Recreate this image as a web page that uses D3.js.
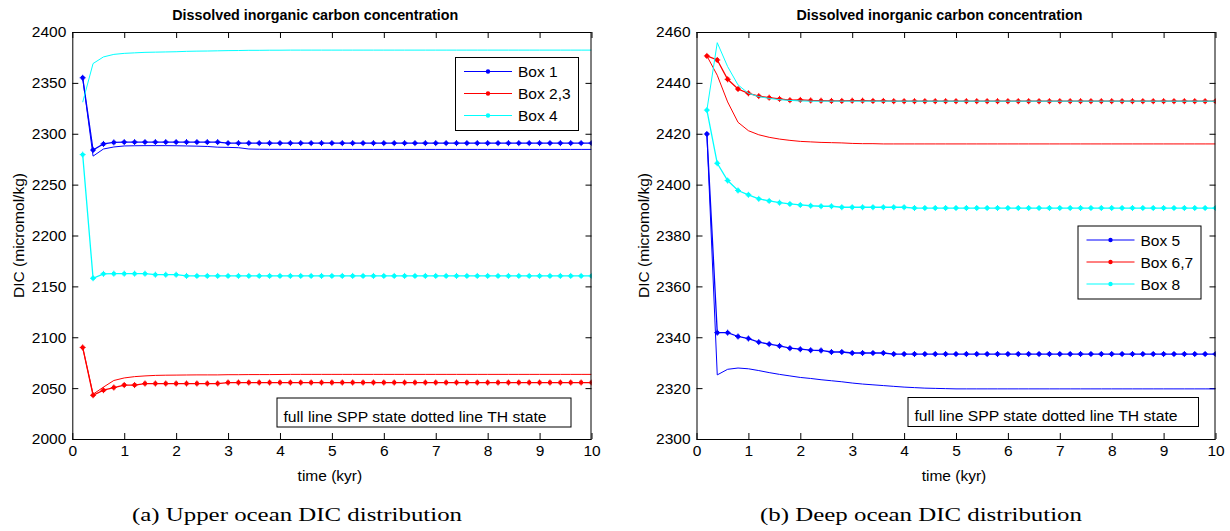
<!DOCTYPE html>
<html>
<head>
<meta charset="utf-8">
<script src="https://cdn.jsdelivr.net/npm/d3@7/dist/d3.min.js"></script>
<style>
    body { margin: 0; background: #fff; }
    svg text { font-family: "Liberation Sans", Arial, sans-serif; fill: #000; }
    .caption { font-family: "Liberation Serif", "Times New Roman", serif !important; }
</style>
</head>
<body>
<div id="fig"></div>
<script>

// TIME (kyr), one sample every 0.2 kyr
const time = [
    0.2, 0.4, 0.6, 0.8, 1.0, 1.2, 1.4, 1.6, 1.8, 2.0,
    2.2, 2.4, 2.6, 2.8, 3.0, 3.2, 3.4, 3.6, 3.8, 4.0,
    4.2, 4.4, 4.6, 4.8, 5.0, 5.2, 5.4, 5.6, 5.8, 6.0,
    6.2, 6.4, 6.6, 6.8, 7.0, 7.2, 7.4, 7.6, 7.8, 8.0,
    8.2, 8.4, 8.6, 8.8, 9.0, 9.2, 9.4, 9.6, 9.8, 10.0
];

// UPPER OCEAN - dotted (TH state)
const box1TH = [
    2355, 2284, 2290, 2291.5, 2291.8, 2291.8, 2291.8, 2291.8, 2291.8, 2291.8,
    2291.8, 2291.8, 2291.8, 2291.8, 2290.8, 2290.8, 2290.8, 2290.8, 2290.8, 2290.8,
    2290.8, 2290.8, 2290.8, 2290.8, 2290.8, 2290.8, 2290.8, 2290.8, 2290.8, 2290.8,
    2290.8, 2290.8, 2290.8, 2290.8, 2290.8, 2290.8, 2290.8, 2290.8, 2290.8, 2290.8,
    2290.8, 2290.8, 2290.8, 2290.8, 2290.8, 2290.8, 2290.8, 2290.8, 2290.8, 2290.8
];
const box23TH = [
    2090, 2043, 2048, 2050.6, 2053, 2053, 2054.5, 2054.5, 2054.5, 2054.5,
    2054.5, 2054.5, 2054.5, 2054.5, 2055.5, 2055.5, 2055.5, 2055.5, 2055.5, 2055.5,
    2055.5, 2055.5, 2055.5, 2055.5, 2055.5, 2055.5, 2055.5, 2055.5, 2055.5, 2055.5,
    2055.5, 2055.5, 2055.5, 2055.5, 2055.5, 2055.5, 2055.5, 2055.5, 2055.5, 2055.5,
    2055.5, 2055.5, 2055.5, 2055.5, 2055.5, 2055.5, 2055.5, 2055.5, 2055.5, 2055.5
];
const box4TH = [
    2279.5, 2158, 2162.3, 2162.5, 2162.5, 2162.5, 2162.5, 2161.5, 2161.5, 2161.5,
    2160.3, 2160.3, 2160.3, 2160.3, 2160.3, 2160.3, 2160.3, 2160.3, 2160.3, 2160.3,
    2160.3, 2160.3, 2160.3, 2160.3, 2160.3, 2160.3, 2160.3, 2160.3, 2160.3, 2160.3,
    2160.3, 2160.3, 2160.3, 2160.3, 2160.3, 2160.3, 2160.3, 2160.3, 2160.3, 2160.3,
    2160.3, 2160.3, 2160.3, 2160.3, 2160.3, 2160.3, 2160.3, 2160.3, 2160.3, 2160.3
];

// UPPER OCEAN - full (SPP state)
const box1SPP = [
    2355, 2278, 2285, 2287, 2288, 2288.2, 2288.3, 2288.3, 2288.3, 2288.2,
    2288, 2287.8, 2287.5, 2286.8, 2286.6, 2286.3, 2285, 2284.8, 2284.7, 2284.7,
    2284.6, 2284.6, 2284.6, 2284.6, 2284.6, 2284.6, 2284.6, 2284.6, 2284.6, 2284.6,
    2284.6, 2284.6, 2284.6, 2284.6, 2284.6, 2284.6, 2284.6, 2284.6, 2284.6, 2284.6,
    2284.6, 2284.6, 2284.6, 2284.6, 2284.6, 2284.6, 2284.6, 2284.6, 2284.6, 2284.6
];
const box23SPP = [
    2090, 2044, 2051, 2057.5, 2060, 2061.3, 2062, 2062.5, 2062.7, 2062.8,
    2062.9, 2063, 2063, 2063, 2063.2, 2063.2, 2063.3, 2063.3, 2063.3, 2063.4,
    2063.5, 2063.5, 2063.5, 2063.5, 2063.5, 2063.5, 2063.5, 2063.5, 2063.5, 2063.5,
    2063.5, 2063.5, 2063.5, 2063.5, 2063.5, 2063.5, 2063.5, 2063.5, 2063.5, 2063.5,
    2063.5, 2063.5, 2063.5, 2063.5, 2063.5, 2063.5, 2063.5, 2063.5, 2063.5, 2063.5
];
const box4SPP = [
    2331, 2369, 2375.5, 2378, 2379, 2379.5, 2380, 2380.2, 2380.4, 2380.6,
    2381, 2381.2, 2381.3, 2381.5, 2381.7, 2381.8, 2382, 2382, 2382.1, 2382.1,
    2382.2, 2382.2, 2382.2, 2382.2, 2382.2, 2382.2, 2382.2, 2382.2, 2382.2, 2382.2,
    2382.2, 2382.2, 2382.2, 2382.2, 2382.2, 2382.2, 2382.2, 2382.2, 2382.2, 2382.2,
    2382.2, 2382.2, 2382.2, 2382.2, 2382.2, 2382.2, 2382.2, 2382.2, 2382.2, 2382.2
];

// DEEP OCEAN - dotted (TH state)
const box5TH = [
    2419.9, 2341.8, 2341.8, 2340.3, 2339.5, 2338.1, 2337.3, 2336.6, 2335.7, 2335.3,
    2334.9, 2334.8, 2334.2, 2334.2, 2333.8, 2333.8, 2333.8, 2333.8, 2333.4, 2333.4,
    2333.4, 2333.4, 2333.4, 2333.4, 2333.4, 2333.4, 2333.4, 2333.4, 2333.4, 2333.4,
    2333.4, 2333.4, 2333.4, 2333.4, 2333.4, 2333.4, 2333.4, 2333.4, 2333.4, 2333.4,
    2333.4, 2333.4, 2333.4, 2333.4, 2333.4, 2333.4, 2333.4, 2333.4, 2333.4, 2333.4
];
const box67TH = [
    2450.6, 2449, 2441.4, 2437.6, 2435.9, 2434.8, 2434.2, 2433.7, 2433.2, 2433.3,
    2433.1, 2433, 2432.9, 2432.9, 2433, 2433, 2432.9, 2432.9, 2432.8, 2432.8,
    2432.8, 2432.8, 2432.8, 2432.8, 2432.8, 2432.8, 2432.8, 2432.8, 2432.8, 2432.8,
    2432.8, 2432.8, 2432.8, 2432.8, 2432.8, 2432.8, 2432.8, 2432.8, 2432.8, 2432.8,
    2432.8, 2432.8, 2432.8, 2432.8, 2432.8, 2432.8, 2432.8, 2432.8, 2432.8, 2432.8
];
const box8TH = [
    2429.3, 2408.4, 2401.6, 2397.7, 2396.0, 2394.4, 2393.6, 2392.9, 2392.4, 2392.0,
    2391.7, 2391.5, 2391.5, 2391.1, 2391.1, 2391.1, 2391.1, 2391.1, 2391.1, 2391.1,
    2390.8, 2390.8, 2390.8, 2390.8, 2390.8, 2390.8, 2390.8, 2390.8, 2390.8, 2390.8,
    2390.8, 2390.8, 2390.8, 2390.8, 2390.8, 2390.8, 2390.8, 2390.8, 2390.8, 2390.8,
    2390.8, 2390.8, 2390.8, 2390.8, 2390.8, 2390.8, 2390.8, 2390.8, 2390.8, 2390.8
];

// DEEP OCEAN - full (SPP state)
const box5SPP = [
    2419.9, 2325.2, 2327.4, 2327.9, 2327.6, 2326.9, 2326.1, 2325.4, 2324.8, 2324.2,
    2323.8, 2323.3, 2322.9, 2322.5, 2322.0, 2321.6, 2321.3, 2321.0, 2320.7, 2320.4,
    2320.2, 2320.0, 2319.9, 2319.8, 2319.7, 2319.7, 2319.7, 2319.7, 2319.7, 2319.7,
    2319.7, 2319.7, 2319.7, 2319.7, 2319.7, 2319.7, 2319.7, 2319.7, 2319.7, 2319.7,
    2319.7, 2319.7, 2319.7, 2319.7, 2319.7, 2319.7, 2319.7, 2319.7, 2319.7, 2319.7
];
const box67SPP = [
    2450.6, 2443, 2432.5, 2424.5, 2421.2, 2419.6, 2418.6, 2417.9, 2417.4, 2417.0,
    2416.8, 2416.6, 2416.5, 2416.4, 2416.2, 2416.1, 2416.1, 2416.0, 2416.0, 2416.0,
    2416.0, 2416.0, 2416.0, 2416.0, 2416.0, 2416.0, 2416.0, 2416.0, 2416.0, 2416.0,
    2416.0, 2416.0, 2416.0, 2416.0, 2416.0, 2416.0, 2416.0, 2416.0, 2416.0, 2416.0,
    2416.0, 2416.0, 2416.0, 2416.0, 2416.0, 2416.0, 2416.0, 2416.0, 2416.0, 2416.0
];
const box8SPP = [
    2429.3, 2455.8, 2446.4, 2439.2, 2435.9, 2434.6, 2433.9, 2433.4, 2433.1, 2432.9,
    2432.8, 2432.8, 2432.8, 2432.8, 2432.8, 2432.8, 2432.8, 2432.8, 2432.8, 2432.8,
    2432.8, 2432.8, 2432.8, 2432.8, 2432.8, 2432.8, 2432.8, 2432.8, 2432.8, 2432.8,
    2432.8, 2432.8, 2432.8, 2432.8, 2432.8, 2432.8, 2432.8, 2432.8, 2432.8, 2432.8,
    2432.8, 2432.8, 2432.8, 2432.8, 2432.8, 2432.8, 2432.8, 2432.8, 2432.8, 2432.8
];

// TICKS AND LABELS
const xTicks = [0, 1, 2, 3, 4, 5, 6, 7, 8, 9, 10];
const upperTicks = [2000, 2050, 2100, 2150, 2200, 2250, 2300, 2350, 2400];
const deepTicks = [2300, 2320, 2340, 2360, 2380, 2400, 2420, 2440, 2460];
const upperNames = ['Box 1', 'Box 2,3', 'Box 4'];
const deepNames = ['Box 5', 'Box 6,7', 'Box 8'];
const colors = ['#0000ff', '#ff0000', '#00ffff'];
const titleText = 'Dissolved inorganic carbon concentration';
const noteText = 'full line SPP state dotted line TH state';


const W = 1230, H = 531;
const fontSize = 15.5;

const svg = d3.select('#fig')
    .append('svg')
    .attr('width', W)
    .attr('height', H)
    .style('display', 'block');

svg.append('rect').attr('width', W).attr('height', H).attr('fill', '#fff');


function panel(p) {

    const top = 32, bottom = 439;

    let x = d3.scaleLinear().domain([0, 10]).range([p.left, p.right]);
    let y = d3.scaleLinear().domain(p.yDomain).range([bottom, top]);

    const g = svg.append('g');

    // clip
    g.append('clipPath').attr('id', 'clip' + p.id)
        .append('rect')
        .attr('x', p.left).attr('y', top)
        .attr('width', p.right - p.left).attr('height', bottom - top);

    // AXES (ticks inside, on every side)
    const bx = g.append('g')
        .attr('transform', 'translate(0,' + bottom + ')')
        .call(d3.axisBottom(x).tickValues(xTicks).tickSizeInner(-6).tickSizeOuter(0).tickPadding(6).tickFormat(d3.format('d')));
    const tx = g.append('g')
        .attr('transform', 'translate(0,' + top + ')')
        .call(d3.axisTop(x).tickValues(xTicks).tickSizeInner(-6).tickSizeOuter(0).tickFormat(''));
    const ly = g.append('g')
        .attr('transform', 'translate(' + p.left + ',0)')
        .call(d3.axisLeft(y).tickValues(p.yTicks).tickSizeInner(-6).tickSizeOuter(0).tickPadding(6).tickFormat(d3.format('d')));
    const ry = g.append('g')
        .attr('transform', 'translate(' + p.right + ',0)')
        .call(d3.axisRight(y).tickValues(p.yTicks).tickSizeInner(-6).tickSizeOuter(0).tickFormat(''));

    [bx, tx, ly, ry].forEach(a => {
        a.select('.domain').remove();
        a.selectAll('line').attr('stroke', '#000');
        a.selectAll('text').style('font-size', fontSize + 'px').attr('fill', '#1a1a1a');
    });

    // SERIES
    const line = d3.line()
        .x((d, i) => x(time[i]))
        .y(d => y(d));

    const plot = g.append('g').attr('clip-path', 'url(#clip' + p.id + ')');

    p.th.forEach((s, k) => {
        plot.append('path')
            .datum(s)
            .attr('fill', 'none')
            .attr('stroke', colors[k])
            .attr('stroke-width', 1.3)
            .attr('d', line);

        const m = plot.append('g').selectAll('g')
            .data(s).enter()
            .append('g')
            .attr('transform', (d, i) => 'translate(' + x(time[i]) + ',' + y(d) + ')');
        m.append('circle').attr('r', 2.2).attr('fill', colors[k]);
        m.append('path').attr('d', 'M-3,0H3M0,-3V3').attr('stroke', colors[k]).attr('stroke-width', 1);
    });

    p.spp.forEach((s, k) => {
        plot.append('path')
            .datum(s)
            .attr('fill', 'none')
            .attr('stroke', colors[k])
            .attr('stroke-width', 1)
            .attr('d', line);
    });

    // BOX
    g.append('rect')
        .attr('x', p.left + 0.5).attr('y', top + 0.5)
        .attr('width', p.right - p.left - 1).attr('height', bottom - top)
        .attr('fill', 'none').attr('stroke', '#000');

    // TITLE + LABELS
    g.append('text')
        .attr('x', p.left + 100).attr('y', 19.5)
        .attr('textLength', 286)
        .attr('lengthAdjust', 'spacingAndGlyphs')
        .style('font-size', '15.5px').style('font-weight', 'bold')
        .text(titleText);

    g.append('text')
        .attr('x', (p.left + p.right) / 2 - 2).attr('y', 481)
        .attr('text-anchor', 'middle')
        .style('font-size', fontSize + 'px')
        .attr('fill', '#1a1a1a')
        .text('time (kyr)');

    g.append('text')
        .attr('transform', 'translate(' + (p.left - 48) + ',' + ((top + bottom) / 2) + ') rotate(-90)')
        .attr('text-anchor', 'middle')
        .style('font-size', fontSize + 'px')
        .attr('fill', '#1a1a1a')
        .text('DIC (micromol/kg)');

    // LEGEND
    const lg = g.append('g').attr('transform', 'translate(' + p.legend[0] + ',' + p.legend[1] + ')');
    lg.append('rect')
        .attr('x', 0.5).attr('y', 0.5).attr('width', 123).attr('height', 73)
        .attr('fill', '#fff').attr('stroke', '#000');
    p.names.forEach((n, k) => {
        const yy = 14.5 + k * 22;
        lg.append('line')
            .attr('x1', 9).attr('x2', 57).attr('y1', yy).attr('y2', yy)
            .attr('stroke', colors[k]).attr('stroke-width', 1);
        lg.append('circle').attr('cx', 33).attr('cy', yy).attr('r', 2.2).attr('fill', colors[k]);
        lg.append('text')
            .attr('x', 63).attr('y', yy + 5.5)
            .style('font-size', fontSize + 'px')
            .attr('fill', '#1a1a1a')
            .text(n);
    });

    // NOTE BOX
    g.append('rect')
        .attr('x', p.note[0] + 0.5).attr('y', p.note[1] + 0.5)
        .attr('width', p.note[2]).attr('height', 29)
        .attr('fill', '#fff').attr('stroke', '#000');
    g.append('text')
        .attr('x', p.note[0] + 7).attr('y', p.note[1] + 24)
        .attr('textLength', 263)
        .attr('lengthAdjust', 'spacingAndGlyphs')
        .style('font-size', fontSize + 'px')
        .attr('fill', '#1a1a1a')
        .text(noteText);

    // CAPTION
    g.append('text')
        .attr('class', 'caption')
        .attr('x', p.caption[0]).attr('y', 520.5)
        .attr('text-anchor', 'middle')
        .attr('textLength', p.caption[1])
        .attr('lengthAdjust', 'spacingAndGlyphs')
        .style('font-size', '18px')
        .text(p.caption[2]);
}


panel({
    id: 'a', left: 72.3, right: 591.5,
    yDomain: [2000, 2400], yTicks: upperTicks,
    th: [box1TH, box23TH, box4TH],
    spp: [box1SPP, box23SPP, box4SPP],
    names: upperNames,
    legend: [455, 57],
    note: [276.5, 397.5, 294],
    caption: [297, 330, '(a) Upper ocean DIC distribution']
});

panel({
    id: 'b', left: 696.5, right: 1215.5,
    yDomain: [2300, 2460], yTicks: deepTicks,
    th: [box5TH, box67TH, box8TH],
    spp: [box5SPP, box67SPP, box8SPP],
    names: deepNames,
    legend: [1077.5, 225.5],
    note: [907.5, 397, 290.5],
    caption: [921, 322, '(b) Deep ocean DIC distribution']
});

</script>
</body>
</html>
